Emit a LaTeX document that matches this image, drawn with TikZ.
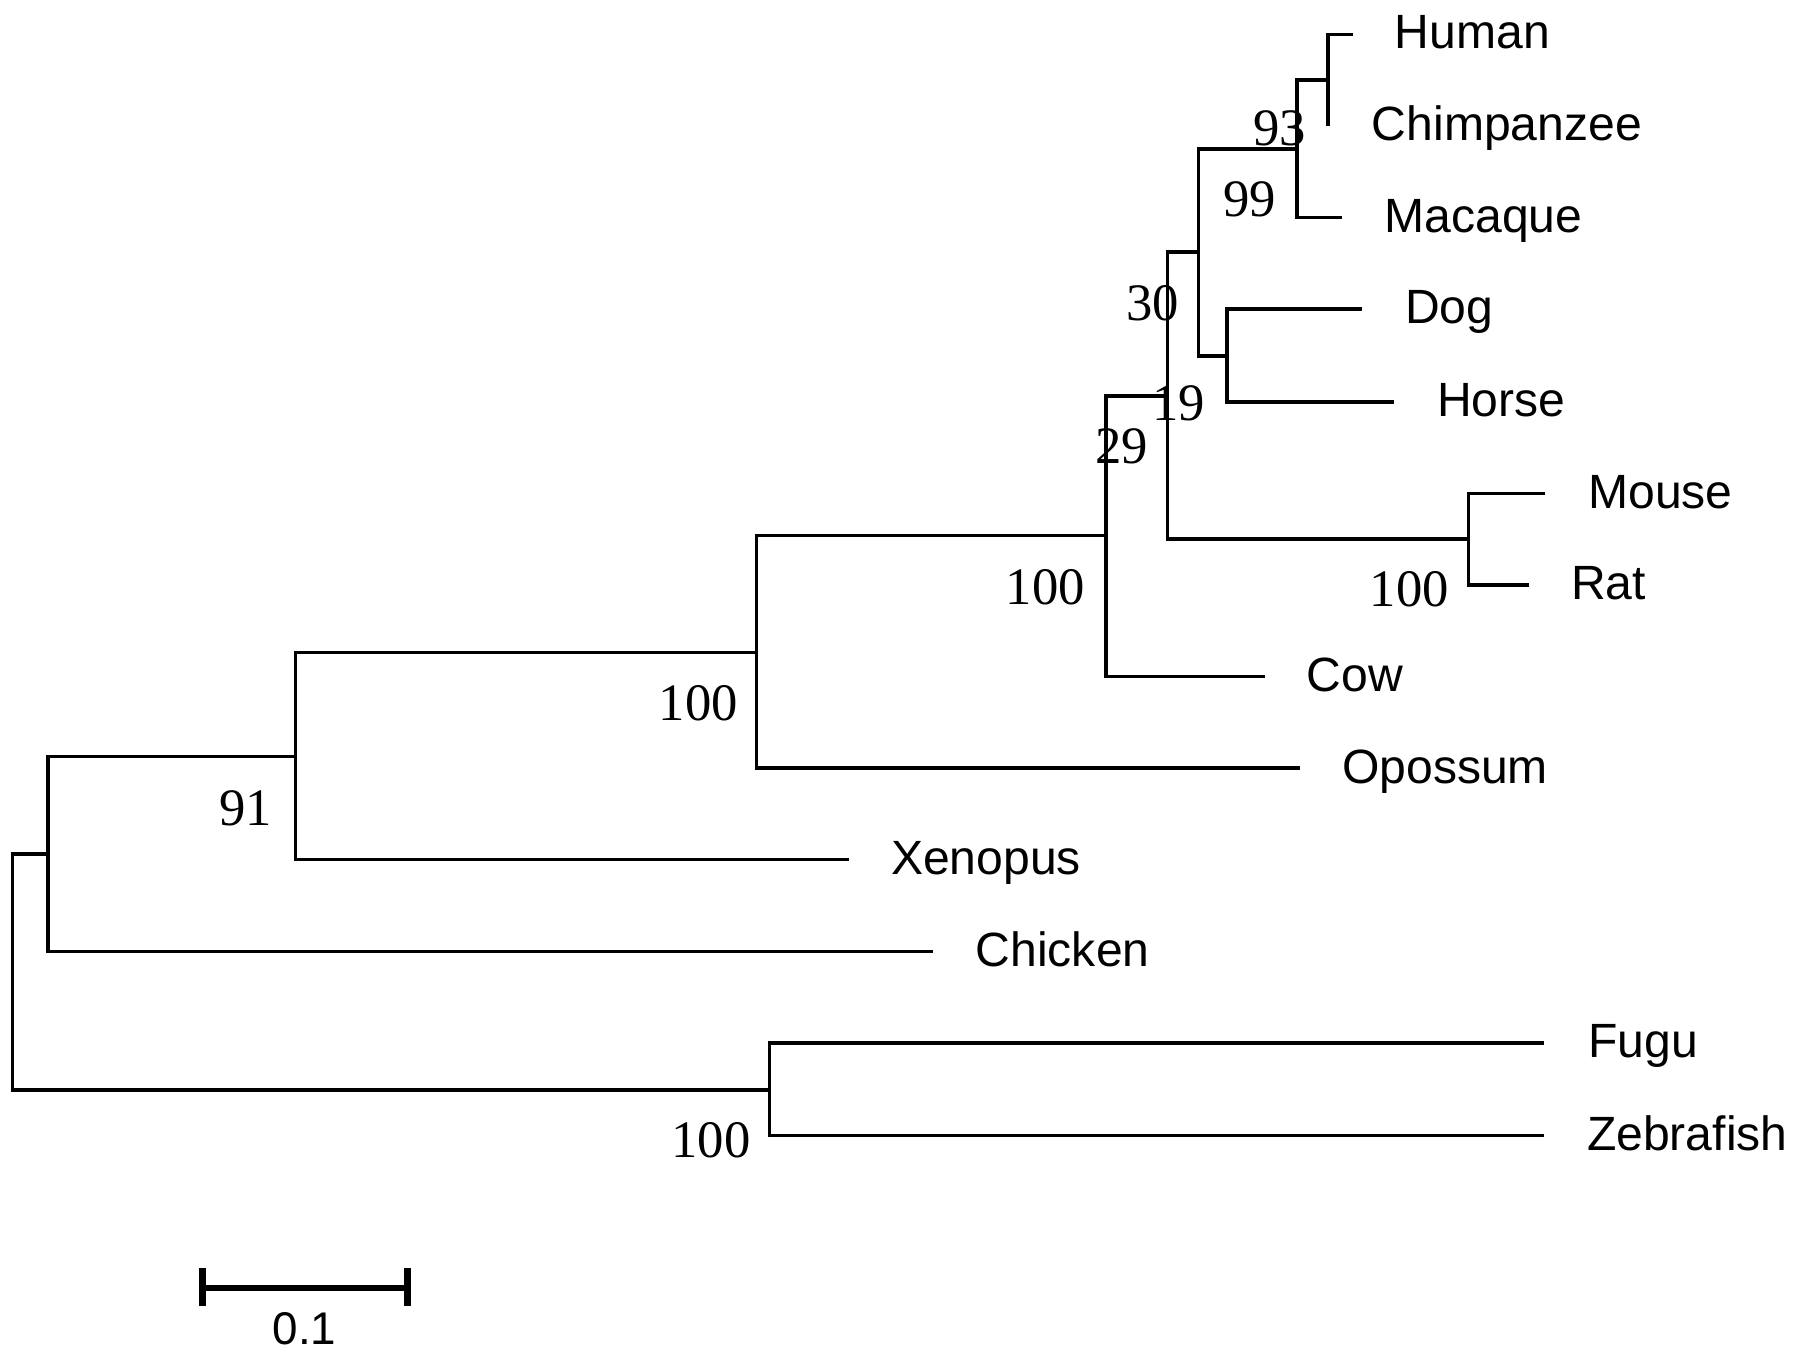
\documentclass[tikz,border=0pt]{standalone}
\usepackage{fontspec}
\setmainfont{Liberation Sans}
\newfontfamily\bsfont{Liberation Serif}
\begin{document}
\begin{tikzpicture}[x=0.5pt,y=-0.5pt,
  branch/.style={line width=1.5pt, line join=miter},
  taxon/.style={anchor=base west, inner sep=0pt, font=\fontsize{21pt}{24pt}\selectfont},
  boot/.style={anchor=east, inner sep=0pt, font=\bsfont\fontsize{23pt}{26pt}\selectfont},
  scalebar/.style={line width=2.3pt},
  scaletick/.style={line width=3pt}]
\useasboundingbox (0,0) rectangle (1568,1187);
% internal nodes
\coordinate (root) at (11,849);
\coordinate (F) at (42,746);
\coordinate (E) at (258,661);
\coordinate (D) at (661,570);
\coordinate (C) at (966,468);
\coordinate (B) at (1020,346);
\coordinate (A) at (1047,220);
\coordinate (P) at (1133,130);
\coordinate (HC) at (1160,70);
\coordinate (DH) at (1072,311);
\coordinate (R) at (1283,471);
\coordinate (fish) at (672,952);
% tips
\coordinate (human) at (1182,30);
\coordinate (chimp) at (1160,110);
\coordinate (macaque) at (1172,190);
\coordinate (dog) at (1190,270);
\coordinate (horse) at (1218,351);
\coordinate (mouse) at (1350,431);
\coordinate (rat) at (1336,511);
\coordinate (cow) at (1105,591);
\coordinate (opossum) at (1136,671);
\coordinate (xenopus) at (742,751);
\coordinate (chicken) at (815,831);
\coordinate (fugu) at (1349,911);
\coordinate (zebrafish) at (1349,992);
% branches
\draw[branch] (root) |- (F);
\draw[branch] (root) |- (fish);
\draw[branch] (F) |- (E);
\draw[branch] (F) |- (chicken);
\draw[branch] (E) |- (D);
\draw[branch] (E) |- (xenopus);
\draw[branch] (D) |- (C);
\draw[branch] (D) |- (opossum);
\draw[branch] (C) |- (B);
\draw[branch] (C) |- (cow);
\draw[branch] (B) |- (A);
\draw[branch] (B) |- (R);
\draw[branch] (A) |- (P);
\draw[branch] (A) |- (DH);
\draw[branch] (P) |- (HC);
\draw[branch] (P) |- (macaque);
\draw[branch] (HC) |- (human);
\draw[branch] (HC) |- (chimp);
\draw[branch] (DH) |- (dog);
\draw[branch] (DH) |- (horse);
\draw[branch] (R) |- (mouse);
\draw[branch] (R) |- (rat);
\draw[branch] (fish) |- (fugu);
\draw[branch] (fish) |- (zebrafish);
% taxon labels
\node[taxon] (lhuman) at ([shift={(36,12)}]human) {Human};
\node[taxon] (lchimp) at ([shift={(38,13)}]chimp) {Chimpanzee};
\node[taxon] (lmacaque) at ([shift={(37,13)}]macaque) {Macaque};
\node[taxon] (ldog) at ([shift={(37,13)}]dog) {Dog};
\node[taxon] (lhorse) at ([shift={(37,13)}]horse) {Horse};
\node[taxon] (lmouse) at ([shift={(37,13)}]mouse) {Mouse};
\node[taxon] (lrat) at ([shift={(36,13)}]rat) {Rat};
\node[taxon] (lcow) at ([shift={(36,13)}]cow) {Cow};
\node[taxon] (lopossum) at ([shift={(36,13)}]opossum) {Opossum};
\node[taxon] (lxenopus) at ([shift={(36,13)}]xenopus) {Xenopus};
\node[taxon] (lchicken) at ([shift={(37,13)}]chicken) {Chicken};
\node[taxon] (lfugu) at ([shift={(38,13)}]fugu) {Fugu};
\node[taxon] (lzebrafish) at ([shift={(37,13)}]zebrafish) {Zebrafish};
% bootstrap values
\node[boot] (bHC) at ([shift={(-19,42)}]HC) {93};
\node[boot] (bP) at ([shift={(-18,44)}]P) {99};
\node[boot] (bA) at ([shift={(-17,45)}]A) {30};
\node[boot] (bDH) at ([shift={(-19,41)}]DH) {19};
\node[boot] (bB) at ([shift={(-17,44)}]B) {29};
\node[boot] (bC) at ([shift={(-18,45)}]C) {100};
\node[boot] (bR) at ([shift={(-17,44)}]R) {100};
\node[boot] (bD) at ([shift={(-16,44)}]D) {100};
\node[boot] (bE) at ([shift={(-20,45)}]E) {91};
\node[boot] (bfish) at ([shift={(-16,44)}]fish) {100};
% scale bar
\coordinate (sbl) at (177,1125);
\coordinate (sbr) at (356,1125);
\draw[scalebar] (sbl) -- (sbr);
\draw[scaletick] ([shift={(0,-17)}]sbl) -- ([shift={(0,16)}]sbl);
\draw[scaletick] ([shift={(0,-17)}]sbr) -- ([shift={(0,16)}]sbr);
\node[inner sep=0pt, font=\fontsize{20pt}{22pt}\selectfont] (sblabel) at (266,1161) {0.1};
\end{tikzpicture}
\end{document}
